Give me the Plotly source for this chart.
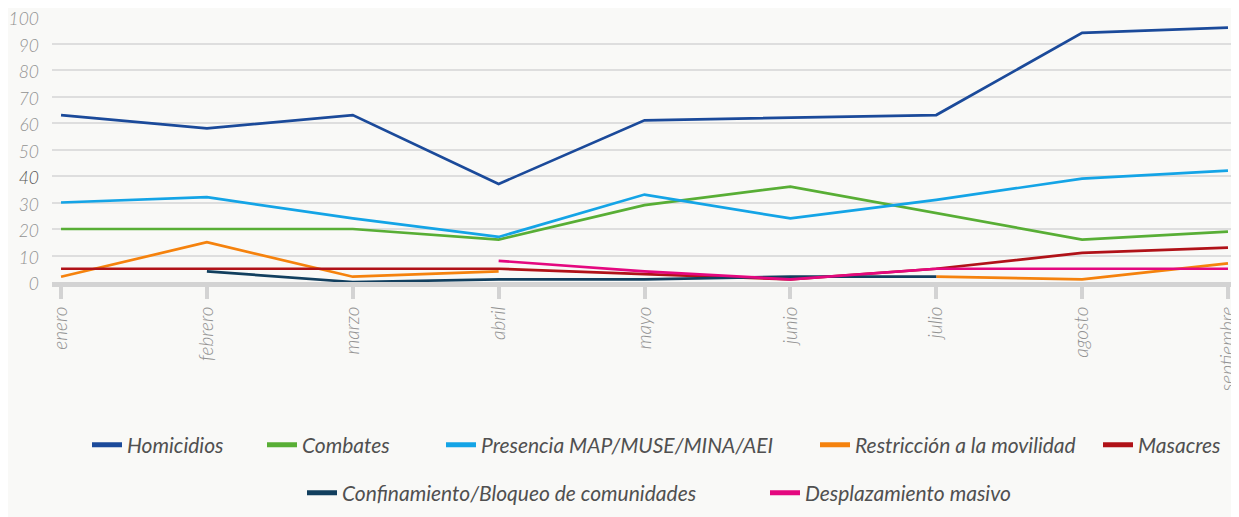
import plotly.graph_objects as go

months = ["enero", "febrero", "marzo", "abril", "mayo", "junio", "julio", "agosto", "septiembre"]

homicidios = [63, 58, 63, 37, 61, 62, 63, 94, 96]
combates = [20, 20, 20, 16, 29, 36, 26, 16, 19]
presencia = [30, 32, 24, 17, 33, 24, 31, 39, 42]
restriccion = [2, 15, 2, 4, None, None, 2, 1, 7]
masacres = [5, 5, 5, 5, 3, 1, 5, 11, 13]
confinamiento = [None, 4, 0, 1, 1, 2, 2, None, None]
desplazamiento = [None, None, None, 8, 4, 1, 5, 5, 5]

series_names = [
    "Homicidios", "Combates", "Presencia MAP/MUSE/MINA/AEI",
    "Restricción a la movilidad", "Masacres",
    "Confinamiento/Bloqueo de comunidades", "Desplazamiento masivo",
]
series_values = [homicidios, combates, presencia, restriccion, masacres,
                 confinamiento, desplazamiento]
colors = ["#1b4a9a", "#58ae35", "#14a4e6", "#f5820d", "#b01218", "#123f5e", "#e4087f"]

# page offset of the plot div (default body margin)
OFF = 8
W, H = 1239 - OFF, 517 - OFF

# legend placement (left edge in page px, row centre in page px)
legend_left_px = [87, 262, 441, 815, 1098, 302, 765]
legend_row_px = [445, 445, 445, 445, 445, 493, 493]

y_ticks = [0, 10, 20, 30, 40, 50, 60, 70, 80, 90, 100]
y_ticktext = [("<span style='color:#555555'>%d</span>" % v) if v == 40 else str(v) for v in y_ticks]

fig = go.Figure()

for name, vals, col in zip(series_names, series_values, colors):
    fig.add_trace(go.Scatter(
        x=months, y=vals, mode="lines", name=name,
        line=dict(color=col, width=2.7), showlegend=False,
        connectgaps=False, hoverinfo="x+y+name",
    ))

legend_layouts = {}
for i, (name, col) in enumerate(zip(series_names, colors)):
    lg = "legend" if i == 0 else "legend%d" % (i + 1)
    fig.add_trace(go.Scatter(
        x=[None], y=[None], mode="lines", name=name,
        line=dict(color=col, width=5), legend=lg, showlegend=True,
    ))
    legend_layouts[lg] = dict(
        orientation="h", xref="container", yref="container",
        x=(legend_left_px[i] - OFF) / W, y=1 - (legend_row_px[i] - OFF) / H,
        xanchor="left", yanchor="middle",
        font=dict(family="Lato", size=21, color="#505050", style="italic"),
        bgcolor="rgba(0,0,0,0)", itemwidth=30, borderwidth=0,
    )

fig.update_layout(
    width=W, height=H,
    paper_bgcolor="#f9f9f7", plot_bgcolor="#f9f9f7",
    margin=dict(l=52 - OFF, r=3, t=17 - OFF, b=H - (282 - OFF)),
    font=dict(family="Lato", color="#999999"),
    xaxis=dict(
        type="category", range=[-0.062, 8.055], automargin=False,
        showgrid=False, zeroline=False,
        showline=True, linecolor="#d3d3d3", linewidth=5,
        ticks="outside", ticklen=12, tickwidth=4, tickcolor="#d3d3d3",
        tickangle=-90, ticklabeloverflow="allow",
        tickfont=dict(family="Lato", size=19, color="#929292", style="italic", weight=300),
    ),
    yaxis=dict(
        range=[0, 100], tickvals=y_ticks, ticktext=y_ticktext, automargin=False,
        showgrid=True, gridcolor="#dedede", gridwidth=1.5,
        zeroline=False, showline=False, ticks="",
        ticklabelstandoff=12, ticklabeloverflow="allow", ticklabelshift=2,
        tickfont=dict(family="Lato", size=17.5, color="#929292", style="italic", weight=300),
    ),
    **legend_layouts,
)

fig.write_html("out.html")
